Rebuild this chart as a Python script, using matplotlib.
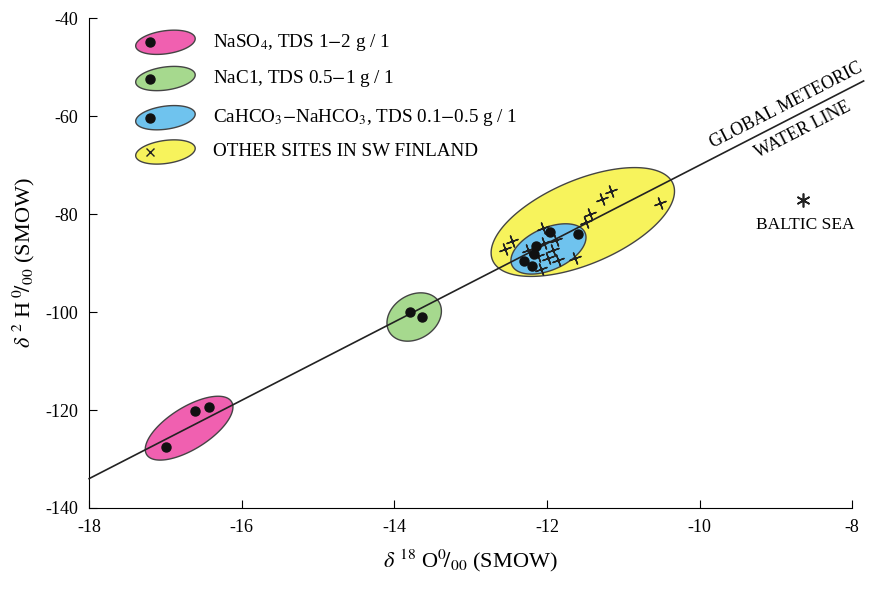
import numpy as np
import matplotlib
matplotlib.use("Agg")
import matplotlib.pyplot as plt

plt.rcParams['font.family'] = ['Liberation Serif', 'DejaVu Serif']
plt.rcParams['mathtext.fontset'] = 'stix'
plt.rcParams['axes.unicode_minus'] = False

# data
naso4_x = [-16.99, -16.61, -16.43]
naso4_y = [-127.6, -120.2, -119.4]
nacl_x = [-13.79, -13.64]
nacl_y = [-100.0, -101.0]
cahco3_x = [-11.96, -11.59, -12.15, -12.17, -12.30, -12.19]
cahco3_y = [-83.7, -84.1, -86.5, -88.2, -89.6, -90.6]
other_x = [-12.55, -12.46, -11.28, -11.16, -10.52, -11.43, -11.49, -12.05, -11.63,
           -12.08, -11.88, -11.92, -12.04, -12.25, -11.85, -11.98, -12.12]
other_y = [-87.1, -85.5, -76.9, -75.3, -77.8, -80.0, -81.6, -82.9, -89.0,
           -91.2, -85.3, -87.3, -85.9, -87.3, -89.4, -89.0, -88.6]
baltic = (-8.64, -77.1)
# group ellipse centres (data units)
groups = ['NaSO$_4$, TDS 1$-$2 g / 1', 'NaC1, TDS 0.5$-$1 g / 1',
          'CaHCO$_3$$-$NaHCO$_3$, TDS 0.1$-$0.5 g / 1', 'OTHER SITES IN SW FINLAND']
colors = ['#f060b0', '#a6d98e', '#6fc3ee', '#f7f35c']
centers = [(-16.69, -123.7), (-13.74, -101.0), (-11.98, -87.1), (-11.53, -81.6)]
# GMWL: dD = 8 d18O + 10
gmwl_x = np.array([-18.0, -7.85])
gmwl_y = 8 * gmwl_x + 10

fig = plt.figure(figsize=(8.74, 5.90), dpi=100)
ax = fig.add_axes([0.102, 0.139, 0.873, 0.830])
ax.set_xlim(-18, -8)
ax.set_ylim(-140, -40)

bb = ax.get_window_extent()
sx = bb.width / 10.0
sy = bb.height / 100.0


def ell(cx, cy, a, b, ang):
    t = np.linspace(0, 2 * np.pi, 200)
    th = np.radians(ang)
    dx = a * np.cos(t) * np.cos(th) - b * np.sin(t) * np.sin(th)
    dy = a * np.cos(t) * np.sin(th) + b * np.sin(t) * np.cos(th)
    return cx + dx / sx, cy + dy / sy


sizes = [(50, 21, 32), (29, 22, 32), (40, 21, 24), (98, 42, 23)]
zs = [2, 2, 3, 2]
for (cx, cy), (a, b, ang), c, z in zip(centers, sizes, colors, zs):
    ex, ey = ell(cx, cy, a, b, ang)
    ax.fill(ex, ey, facecolor=c, edgecolor='#444444', lw=1.0, zorder=z)

ax.plot(gmwl_x, gmwl_y, color='#222222', lw=1.2, zorder=4, clip_on=False)

cross = (4, 2, 20)
ax.plot(other_x, other_y, ls='none', marker=cross, ms=9, mew=1.0, color='#222222', zorder=5)
dots = dict(ls='none', marker='o', ms=6.5, color='#111111', zorder=6)
ax.plot(naso4_x, naso4_y, **dots)
ax.plot(nacl_x, nacl_y, **dots)
ax.plot(cahco3_x, cahco3_y, **dots)

ax.plot(*baltic, marker=(6, 2, 0), ms=10, mew=1.2, color='#222222', ls='none')
ax.text(baltic[0] + 0.02, baltic[1] - 3.4, 'BALTIC SEA', ha='center', va='top', fontsize=12.5)

# line labels
ang = np.degrees(np.arctan(8 * sy / sx))
ax.text(-8.82, 8 * -8.82 + 10 + 1.2, 'GLOBAL METEORIC', rotation=ang, rotation_mode='anchor',
        ha='center', va='bottom', fontsize=13)
ax.text(-8.70, 8 * -8.70 + 10 - 1.6, 'WATER LINE', rotation=ang, rotation_mode='anchor',
        ha='center', va='top', fontsize=13)

# legend drawn by hand
leg_y = [-44.9, -52.3, -60.3, -67.3]
for i, (lab, c) in enumerate(zip(groups, colors)):
    ex, ey = ell(-17.0, leg_y[i], 30, 11.5, 8)
    ax.fill(ex, ey, facecolor=c, edgecolor='#444444', lw=1.0, zorder=2)
    if i < 3:
        ax.plot(-17.2, leg_y[i], **dots)
    else:
        ax.plot(-17.2, leg_y[i], marker='x', ms=6, mew=1.0, color='#222222', zorder=5)
    ax.text(-16.38, leg_y[i], lab, va='center', ha='left', fontsize=13.8)

ax.spines['top'].set_visible(False)
ax.spines['right'].set_visible(False)
ax.set_xticks(range(-18, -7, 2))
ax.set_yticks(range(-140, -39, 20))
ax.tick_params(direction='in', length=6, labelsize=13, pad=8)
ax.set_xlabel(r'$\delta^{\ 18}\ $O$^{0}\!/_{00}$ (SMOW)', fontsize=16, labelpad=8)
ax.set_ylabel(r'$\delta^{\ 2}\ $H$^{\ 0}\!/_{00}$ (SMOW)', fontsize=16, labelpad=6)

fig.savefig('out.png', dpi=100)
